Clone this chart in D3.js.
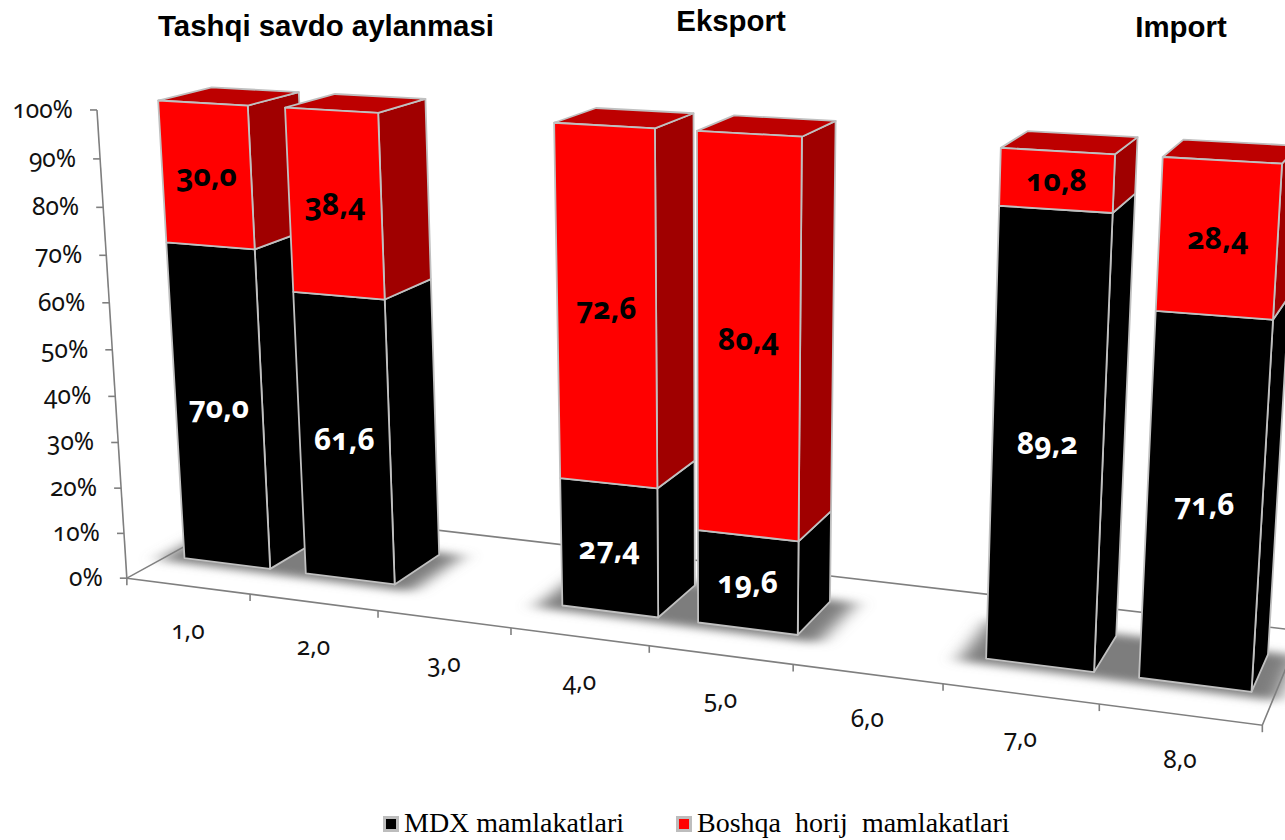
<!DOCTYPE html>
<html>
<head>
<meta charset="utf-8">
<style>
    html, body { margin: 0; padding: 0; background: #fff; overflow: hidden; }
    svg { display: block; }
</style>
<script src="https://cdn.jsdelivr.net/npm/d3@7"></script>
</head>
<body>
<svg id="chart" width="1285" height="840"></svg>
<script>
const categories = ["1,0", "2,0", "3,0", "4,0", "5,0", "6,0", "7,0", "8,0"]
const mdx = [70.0, 61.6, null, 27.4, 19.6, null, 89.2, 71.6]
const boshqa = [30.0, 38.4, null, 72.6, 80.4, null, 10.8, 28.4]
const yTicks = [0, 10, 20, 30, 40, 50, 60, 70, 80, 90, 100]
const seriesNames = ["MDX mamlakatlari", "Boshqa  horij  mamlakatlari"]
const titles = [
    {text: "Tashqi savdo aylanmasi", x: 326, y: 36},
    {text: "Eksport", x: 731, y: 31},
    {text: "Import", x: 1181, y: 37}
]

const svg = d3.select("#chart")

// camera matrix, fitted against the corners of the bars in the picture
const camera = [0.94039, -0.03422, 0.11862, 0.14056, 0.03943, -0.46928, -0.01928, 0.57064, -0.14658, -0.04748, 0.07083]

const x = d3.scaleBand().domain(categories).range([0, 1]).paddingInner(0.29).paddingOuter(0.145)
const y = d3.scaleLinear().domain([0, 100]).range([0, 1])
const zFront = -0.125, zBack = 1.12, zBar0 = 0.25, zBar1 = 0.75

function project(a, b, c) {
    const d = camera[8] * a + camera[9] * b + camera[10] * c + 1
    return [
        1000 * (camera[0] * a + camera[1] * b + camera[2] * c + camera[3]) / d,
        1000 * (camera[4] * a + camera[5] * b + camera[6] * c + camera[7]) / d
    ]
}

const polygon = d3.line().curve(d3.curveLinearClosed)

const rows = categories.map((c, i) => ({cat: c, mdx: mdx[i], boshqa: boshqa[i]})).filter(d => d.mdx !== null)
const stacked = d3.stack().keys(["mdx", "boshqa"])(rows)

const colors = {
    mdx: {front: "#000000", side: "#000000", top: "#000000", label: "#ffffff"},
    boshqa: {front: "#ff0000", side: "#a00000", top: "#bd0000", label: "#000000"}
}

const numFont = "'Noto Sans'"

svg.append("defs").append("filter").attr("id", "soft")
    .attr("x", "-10%").attr("y", "-30%").attr("width", "120%").attr("height", "160%")
    .append("feGaussianBlur").attr("stdDeviation", "10 4")

// shadow lying on the floor
const shadow = svg.append("g").attr("filter", "url(#soft)").attr("fill", "#7d7d7d")
rows.forEach(d => {
    const x0 = x(d.cat) - 0.02, x1 = x(d.cat) + x.bandwidth() + 0.022
    shadow.append("path").attr("d", polygon([
        project(x0, 0, 0.18), project(x1, 0, 0.18), project(x1, 0, 0.78), project(x0, 0, 0.78)
    ]))
})

// floor and axes
const frame = svg.append("g").attr("fill", "none").attr("stroke", "#7f7f7f").attr("stroke-width", 1.6)
frame.append("path").attr("d", polygon([
    project(0, 0, zFront), project(1, 0, zFront), project(1, 0, zBack), project(0, 0, zBack)
]))
frame.append("path").attr("d", d3.line()([project(0, y(0), zFront), project(0, y(100), zFront)]))

yTicks.forEach(t => {
    const p = project(0, y(t), zFront)
    frame.append("line").attr("x1", p[0] - 7).attr("x2", p[0]).attr("y1", p[1]).attr("y2", p[1])
    svg.append("text").attr("class", "num")
        .attr("x", p[0] - 24).attr("y", p[1] + 8)
        .attr("text-anchor", "end").text(t + "%")
})

d3.range(categories.length + 1).forEach(i => {
    const t = project(i * x.step(), 0, zFront)
    frame.append("line").attr("x1", t[0]).attr("x2", t[0]).attr("y1", t[1]).attr("y2", t[1] + 7)
})

categories.forEach(c => {
    const m = project(x(c) + x.bandwidth() / 2, 0, zFront)
    svg.append("text").attr("class", "num")
        .attr("x", m[0]).attr("y", m[1] + 53)
        .attr("text-anchor", "middle").text(c)
})

svg.selectAll("text.num")
    .attr("font-family", numFont).attr("font-size", 24.5).attr("fill", "#111")
    .style("font-variant-numeric", "oldstyle-nums")

// bars go left to right so the later one covers the side of the earlier one
rows.forEach((row, r) => {
    const x0 = x(row.cat), x1 = x0 + x.bandwidth()
    const g = svg.append("g").attr("stroke", "#c0c0c0").attr("stroke-width", 1.8).attr("stroke-linejoin", "round")
    stacked.forEach(s => {
        const v0 = y(s[r][0]), v1 = y(s[r][1]), c = colors[s.key]
        g.append("path").attr("fill", c.side).attr("d", polygon([
            project(x1, v0, zBar0), project(x1, v0, zBar1), project(x1, v1, zBar1), project(x1, v1, zBar0)
        ]))
        if (s.key === "boshqa") {
            g.append("path").attr("fill", c.top).attr("d", polygon([
                project(x0, v1, zBar0), project(x1, v1, zBar0), project(x1, v1, zBar1), project(x0, v1, zBar1)
            ]))
        }
        g.append("path").attr("fill", c.front).attr("d", polygon([
            project(x0, v0, zBar0), project(x1, v0, zBar0), project(x1, v1, zBar0), project(x0, v1, zBar0)
        ]))
    })
    stacked.forEach(s => {
        const p = project((x0 + x1) / 2, (y(s[r][0]) + y(s[r][1])) / 2, zBar0)
        svg.append("text").attr("x", p[0]).attr("y", p[1] + 11)
            .attr("text-anchor", "middle")
            .attr("font-family", numFont).attr("font-weight", 700).attr("font-size", 30)
            .style("font-variant-numeric", "oldstyle-nums")
            .attr("fill", colors[s.key].label)
            .text(d3.format(".1f")(s[r].data[s.key]).replace(".", ","))
    })
})

svg.selectAll("text.title").data(titles).enter().append("text")
    .attr("class", "title")
    .attr("x", d => d.x).attr("y", d => d.y)
    .attr("text-anchor", "middle")
    .attr("font-family", "'Liberation Sans'").attr("font-weight", 700).attr("font-size", 29.4)
    .attr("fill", "#000")
    .text(d => d.text)

// legend
const legendX = [383, 676]
seriesNames.forEach((name, i) => {
    const c = i === 0 ? colors.mdx.front : colors.boshqa.front
    svg.append("rect").attr("x", legendX[i] + 1.5).attr("y", 817.5).attr("width", 13).attr("height", 13)
        .attr("fill", c).attr("stroke", "#bdbdbd").attr("stroke-width", 3)
    svg.append("text").attr("x", legendX[i] + 21).attr("y", 832)
        .attr("font-family", "'Liberation Serif'").attr("font-size", 28).attr("fill", "#000")
        .style("white-space", "pre")
        .text(name)
})
</script>
</body>
</html>
